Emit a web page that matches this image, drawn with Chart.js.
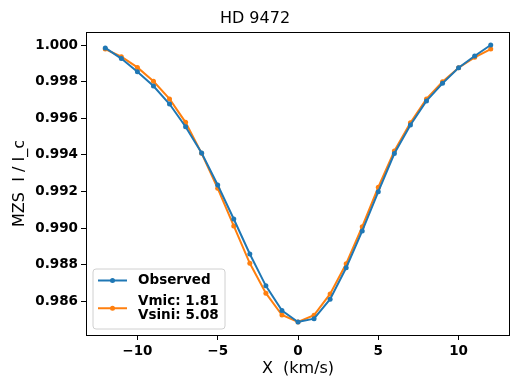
<!DOCTYPE html>
<html>
<head>
<meta charset="utf-8">
<script src="https://cdn.jsdelivr.net/npm/chart.js@4.4.0/dist/chart.umd.min.js"></script>
<style>
html,body{margin:0;padding:0;background:#fff;}
canvas{display:block;}
</style>
</head>
<body>
<canvas id="c" width="514" height="378"></canvas>
<script>
const velocities = [-12,-11,-10,-9,-8,-7,-6,-5,-4,-3,-2,-1,0,1,2,3,4,5,6,7,8,9,10,11,12];
const observed = [0.99984,0.99926,0.99854,0.99776,0.99678,0.99554,0.99411,0.99236,0.99051,0.98860,0.98686,0.98551,0.98489,0.98507,0.98613,0.98785,0.98986,0.99200,0.99408,0.99564,0.99695,0.99791,0.99876,0.99940,1.00000];
const model = [0.99978,0.99936,0.99878,0.99802,0.99706,0.99578,0.99409,0.99218,0.99013,0.98809,0.98646,0.98527,0.98489,0.98526,0.98642,0.98807,0.99009,0.99224,0.99422,0.99576,0.99706,0.99800,0.99876,0.99933,0.99978];
const xTicks = [-10,-5,0,5,10];
const yTicks = [0.986,0.988,0.990,0.992,0.994,0.996,0.998,1.000];
const seriesLabels = ['Observed', 'Vmic: 1.81\nVsini: 5.08'];
const titleText = 'HD 9472';
const xTitle = 'X  (km/s)';
const yTitle = 'MZS  I / I_c';

const FONT = "'DejaVu Sans', sans-serif";
const BLUE = '#1f77b4', ORANGE = '#ff7f0e';

const frameAndLegend = {
  id: 'frameAndLegend',
  afterDatasetsDraw(chart) {
    const {ctx, chartArea: a} = chart;
    ctx.save();
    ctx.strokeStyle = '#000';
    ctx.lineWidth = 1;
    ctx.strokeRect(Math.round(a.left) + 0.5, Math.round(a.top) + 0.5, Math.round(a.right - a.left) - 1, Math.round(a.bottom - a.top));
    const bx = a.left + 7, bw = 132, bh = 60;
    const by = a.bottom - 6 - bh;
    const r = 3;
    ctx.beginPath();
    ctx.moveTo(bx + r, by);
    ctx.lineTo(bx + bw - r, by);
    ctx.arcTo(bx + bw, by, bx + bw, by + r, r);
    ctx.lineTo(bx + bw, by + bh - r);
    ctx.arcTo(bx + bw, by + bh, bx + bw - r, by + bh, r);
    ctx.lineTo(bx + r, by + bh);
    ctx.arcTo(bx, by + bh, bx, by + bh - r, r);
    ctx.lineTo(bx, by + r);
    ctx.arcTo(bx, by, bx + r, by, r);
    ctx.closePath();
    ctx.fillStyle = 'rgba(255,255,255,0.8)';
    ctx.fill();
    ctx.strokeStyle = '#d0d0d0';
    ctx.lineWidth = 1;
    ctx.stroke();

    ctx.font = "bold 13.5px " + FONT;
    ctx.textBaseline = 'middle';
    ctx.textAlign = 'left';
    let cy = by + 11.5;
    chart.data.datasets.forEach((ds) => {
      const lines = ds.label.split('\n');
      const lh = 14.5;
      const mid = cy + (lines.length - 1) * lh / 2;
      ctx.strokeStyle = ds.borderColor;
      ctx.lineWidth = 2;
      ctx.beginPath();
      ctx.moveTo(bx + 5, mid);
      ctx.lineTo(bx + 34, mid);
      ctx.stroke();
      ctx.fillStyle = ds.borderColor;
      ctx.beginPath();
      ctx.arc(bx + 19.5, mid, 2.5, 0, Math.PI * 2);
      ctx.fill();
      ctx.fillStyle = '#000';
      lines.forEach((t, i) => ctx.fillText(t, bx + 45, cy + i * lh));
      cy += lines.length * lh + 6;
    });
    ctx.restore();
  }
};

new Chart(document.getElementById('c'), {
  type: 'line',
  data: {
    datasets: [
      {
        label: seriesLabels[0],
        data: velocities.map((v, i) => ({x: v, y: observed[i]})),
        borderColor: BLUE, backgroundColor: BLUE,
        pointBackgroundColor: BLUE, pointBorderWidth: 0,
        pointRadius: 2.5, borderWidth: 2, tension: 0, fill: false
      },
      {
        label: seriesLabels[1],
        data: velocities.map((v, i) => ({x: v, y: model[i]})),
        borderColor: ORANGE, backgroundColor: ORANGE,
        pointBackgroundColor: ORANGE, pointBorderWidth: 0,
        pointRadius: 2.5, borderWidth: 2, tension: 0, fill: false
      }
    ]
  },
  options: {
    responsive: false,
    animation: false,
    devicePixelRatio: 1,
    layout: {padding: {left: 0, right: 4, top: 0, bottom: 0}},
    plugins: {
      legend: {display: false},
      tooltip: {enabled: false},
      title: {
        display: true, text: titleText, color: '#000',
        font: {family: FONT, size: 16, weight: 'normal', lineHeight: 1.2},
        padding: {top: 9.4, bottom: 3.4}
      }
    },
    scales: {
      x: {
        type: 'linear', min: -13.2, max: 13.2,
        afterBuildTicks: (s) => { s.ticks = xTicks.map(v => ({value: v})); },
        afterFit: (s) => { s.height = 43; },
        grid: {drawOnChartArea: false, drawTicks: true, tickLength: 5, color: '#000', tickWidth: 1},
        border: {display: false},
        ticks: {
          color: '#000', padding: 3, maxRotation: 0,
          font: {family: FONT, size: 13.5, weight: 'bold'},
          callback: (v) => String(v).replace('-', '\u2212')
        },
        title: {
          display: true, text: xTitle, color: '#000',
          font: {family: FONT, size: 16, weight: 'normal', lineHeight: 1.2},
          padding: {top: 0, bottom: 0}
        }
      },
      y: {
        type: 'linear', min: 0.98418, max: 1.00071,
        afterBuildTicks: (s) => { s.ticks = yTicks.map(v => ({value: v})); },
        afterFit: (s) => { s.width = 86; },
        grid: {drawOnChartArea: false, drawTicks: true, tickLength: 5, color: '#000', tickWidth: 1},
        border: {display: false},
        ticks: {
          color: '#000', padding: 3,
          font: {family: FONT, size: 13.5, weight: 'bold'},
          callback: (v) => Number(v).toFixed(3)
        },
        title: {
          display: true, text: yTitle, color: '#000',
          font: {family: FONT, size: 16, weight: 'normal', lineHeight: 1.2},
          padding: {top: 10, bottom: 0}
        }
      }
    }
  },
  plugins: [frameAndLegend]
});
</script>
</body>
</html>
